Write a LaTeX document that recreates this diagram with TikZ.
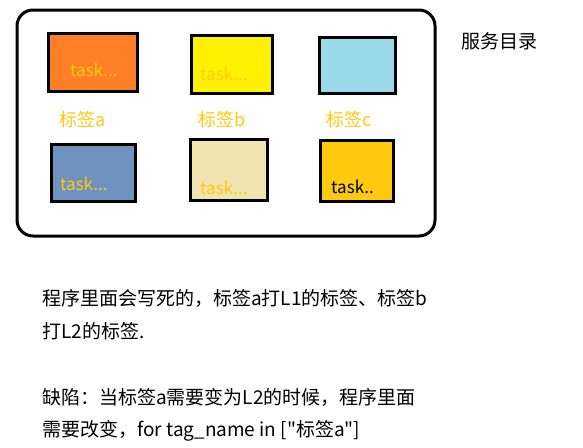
\documentclass[tikz,border=0pt]{standalone}
\usepackage{fontspec}
\setmainfont{Noto Sans CJK SC}[Ligatures=TeXOff]
\definecolor{cOrange}{HTML}{FF7F27}
\definecolor{cYellow}{HTML}{FFF200}
\definecolor{cBlue}{HTML}{99D9EA}
\definecolor{cSteel}{HTML}{7092BE}
\definecolor{cBeige}{HTML}{EFE4B0}
\definecolor{cGold}{HTML}{FFC90E}
\tikzset{
  taskbox/.style={draw=black, line width=3pt},
  tasktext/.style={font=\fontsize{17}{20}\selectfont, text=cGold, inner sep=0pt},
  taglabel/.style={font=\fontsize{18}{21}\selectfont, text=cGold, inner sep=0pt},
  bodytext/.style={font=\fontsize{19}{23}\selectfont, anchor=west, inner sep=0pt}
}
\begin{document}
\begin{tikzpicture}[x=1pt,y=-1pt]
\useasboundingbox (0,0) rectangle (583,447);
\draw[line width=3pt, rounded corners=16pt] (17,10) rectangle (435,236);
\node[taskbox, fill=cOrange, minimum width=89pt, minimum height=58pt, inner sep=0pt] (b1) at (93,62.5) {};
\node[taskbox, fill=cYellow, minimum width=81pt, minimum height=58pt, inner sep=0pt] (b2) at (232,64.5) {};
\node[taskbox, fill=cBlue, minimum width=76pt, minimum height=56pt, inner sep=0pt] (b3) at (357.5,65.5) {};
\node[taskbox, fill=cSteel, minimum width=84pt, minimum height=57pt, inner sep=0pt] (b4) at (93.5,173) {};
\node[taskbox, fill=cBeige, minimum width=77pt, minimum height=61pt, inner sep=0pt] (b5) at (229,170) {};
\node[taskbox, fill=cGold, minimum width=73pt, minimum height=61pt, inner sep=0pt] (b6) at (357,171) {};
\node[tasktext, anchor=west] (t1) at (70,70) {task...};
\node[tasktext, anchor=west] (t2) at (200,74) {task...};
\node[tasktext, anchor=west] (t4) at (60,184) {task...};
\node[tasktext, anchor=west] (t5) at (200,188) {task...};
\node[tasktext, anchor=west, text=black] (t6) at (331,187) {task..};
\node[taglabel, anchor=west] (la) at (59,120) {标签a};
\node[taglabel, anchor=west] (lb) at (198,120) {标签b};
\node[taglabel, anchor=west] (lc) at (326,120) {标签c};
\node[taglabel, anchor=west, text=black, font=\fontsize{19}{22}\selectfont] (title) at (461,41) {服务目录};
\node[bodytext] (l1) at (42,298) {程序里面会写死的，标签a打L1的标签、标签b};
\node[bodytext] (l2) at (42,331) {打L2的标签.};
\node[bodytext] (l3) at (42,397) {缺陷：当标签a需要变为L2的时候，程序里面};
\node[bodytext] (l4) at (42,431) {需要改变，for tag\_name in ["标签a"]};
\end{tikzpicture}
\end{document}
